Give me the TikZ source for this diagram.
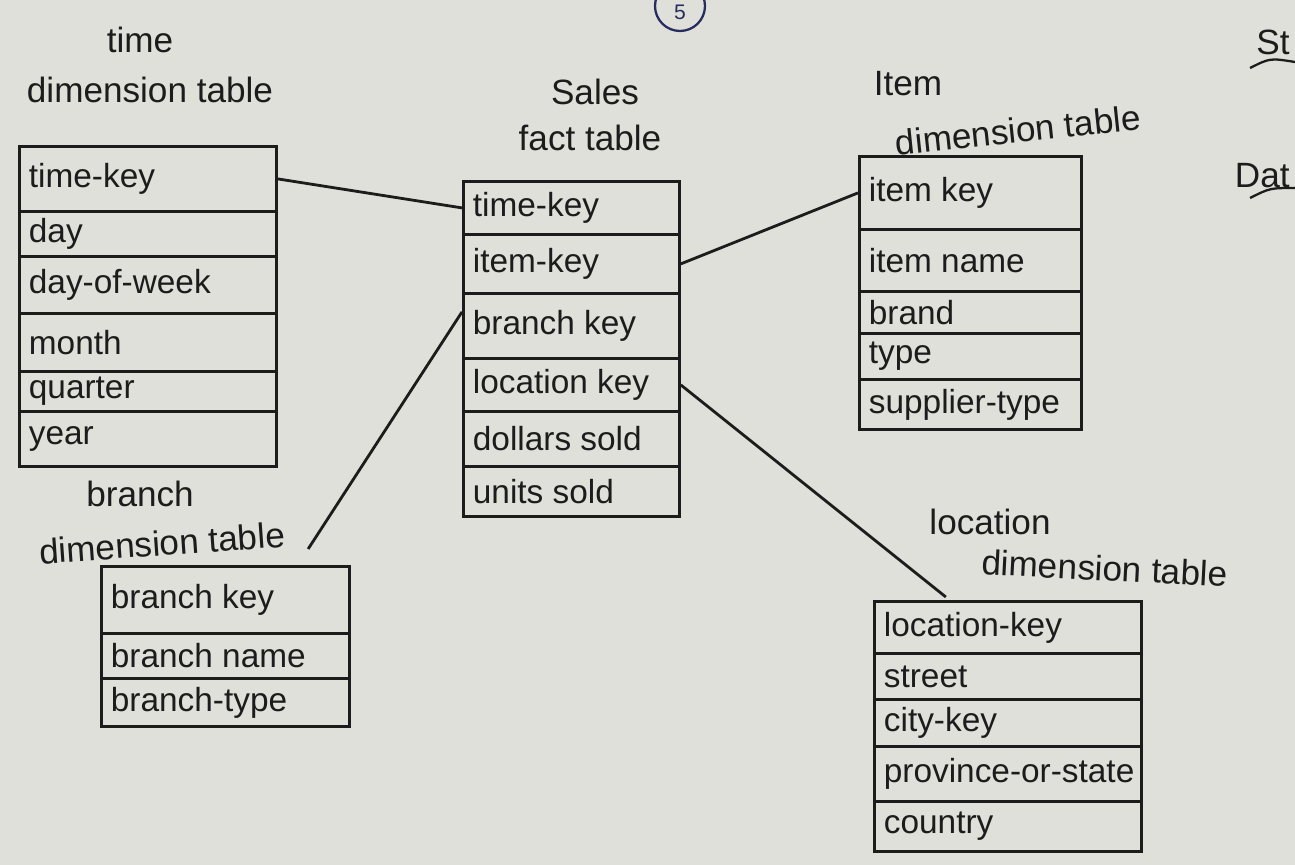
\documentclass[tikz,border=0pt]{standalone}
\usepackage{fontspec}
\setmainfont{Liberation Sans}
\usetikzlibrary{calc}
\definecolor{paper}{RGB}{224,224,218}
\definecolor{ink}{RGB}{28,28,28}
\definecolor{blueink}{RGB}{40,45,95}
\tikzset{
  cell/.style={draw=ink, line width=1.6pt, anchor=north west, inner sep=0pt},
  lbl/.style={anchor=west, xshift=5pt, text=ink, font=\fontsize{19}{22}\selectfont, inner sep=1pt},
  ttl/.style={text=ink, font=\fontsize{20}{24}\selectfont, inner sep=0pt},
  link/.style={draw=ink, line width=1.6pt}
}
\newcommand\cellrow[6]{%
  \node[cell, minimum width=#4cm, minimum height=#5cm] (#1) at (#2,#3) {};
  \node[lbl] (#1t) at (#1.west) {#6};}
\begin{document}
\begin{tikzpicture}[x=0.02cm,y=-0.02cm]
\fill[paper] (0,0) rectangle (1295,865);
\useasboundingbox (0,0) rectangle (1295,865);
\clip (0,0) rectangle (1295,865);

% page number circle
\node[draw=blueink, line width=1.3pt, circle, minimum size=1.0cm, inner sep=0pt] (pg) at (680,6) {};
\node[text=blueink, font=\fontsize{12}{14}\selectfont, inner sep=0pt] (pgn) at (680,12) {5};

% time dimension table
\node[ttl] (tt1) at (140,40) {time};
\node[ttl] (tt2) at (150,90) {dimension table};
\cellrow{t1}{18}{145}{5.14}{1.30}{time-key}
\cellrow{t2}{18}{210}{5.14}{0.90}{day}
\cellrow{t3}{18}{255}{5.14}{1.14}{day-of-week}
\cellrow{t4}{18}{312}{5.14}{1.16}{month}
\cellrow{t5}{18}{370}{5.14}{0.80}{quarter}
\cellrow{t6}{18}{410}{5.14}{1.10}{year}

% sales fact table
\node[ttl] (ft1) at (595,92) {Sales};
\node[ttl] (ft2) at (590,138) {fact table};
\cellrow{f1}{462}{180}{4.32}{1.06}{time-key}
\cellrow{f2}{462}{233}{4.32}{1.18}{item-key}
\cellrow{f3}{462}{292}{4.32}{1.30}{branch key}
\cellrow{f4}{462}{357}{4.32}{1.06}{location key}
\cellrow{f5}{462}{410}{4.32}{1.10}{dollars sold}
\cellrow{f6}{462}{465}{4.32}{1.00}{units sold}

% item dimension table
\node[ttl] (it1) at (908,84) {Item};
\node[ttl, rotate=6] (it2) at (1018,130) {dimension table};
\cellrow{i1}{858}{155}{4.44}{1.46}{item key}
\cellrow{i2}{858}{228}{4.44}{1.24}{item name}
\cellrow{i3}{858}{290}{4.44}{0.84}{brand}
\cellrow{i4}{858}{332}{4.44}{0.92}{type}
\cellrow{i5}{858}{378}{4.44}{1.00}{supplier-type}

% branch dimension table
\node[ttl] (bt1) at (140,494) {branch};
\node[ttl, rotate=4] (bt2) at (162,543) {dimension table};
\cellrow{b1}{100}{565}{4.96}{1.34}{branch key}
\cellrow{b2}{100}{632}{4.96}{0.90}{branch name}
\cellrow{b3}{100}{677}{4.96}{0.96}{branch-type}

% location dimension table
\node[ttl] (lt1) at (990,522) {location};
\node[ttl, rotate=-3] (lt2) at (1105,568) {dimension table};
\cellrow{l1}{873}{600}{5.34}{1.04}{location-key}
\cellrow{l2}{873}{652}{5.34}{0.92}{street}
\cellrow{l3}{873}{698}{5.34}{0.94}{city-key}
\cellrow{l4}{873}{745}{5.34}{1.10}{province-or-state}
\cellrow{l5}{873}{800}{5.34}{1.00}{country}

% connectors
\draw[link] (t1.east) -- (f1.west);
\draw[link] (f2.east) -- (i1.west);
\draw[link] ($(b1.north west)!0.83!(b1.north east)+(0,-16)$) -- ($(f3.west)+(0,-14)$);
\draw[link] (f4.east) -- ($(l1.north west)!0.27!(l1.north east)+(0,-3)$);

% margin fragments
\node[ttl, anchor=east] (m1) at (1290,42) {St};
\coordinate (m1a) at (1250,68);
\coordinate (m1b) at (1295,62);
\draw[link, line width=1.3pt] (m1a) .. controls (1270,58) .. (m1b);
\node[ttl, anchor=east] (m2) at (1290,176) {Dat};
\coordinate (m2a) at (1250,198);
\coordinate (m2b) at (1295,188);
\draw[link, line width=1.3pt] (m2a) .. controls (1270,188) .. (m2b);
\end{tikzpicture}
\end{document}
